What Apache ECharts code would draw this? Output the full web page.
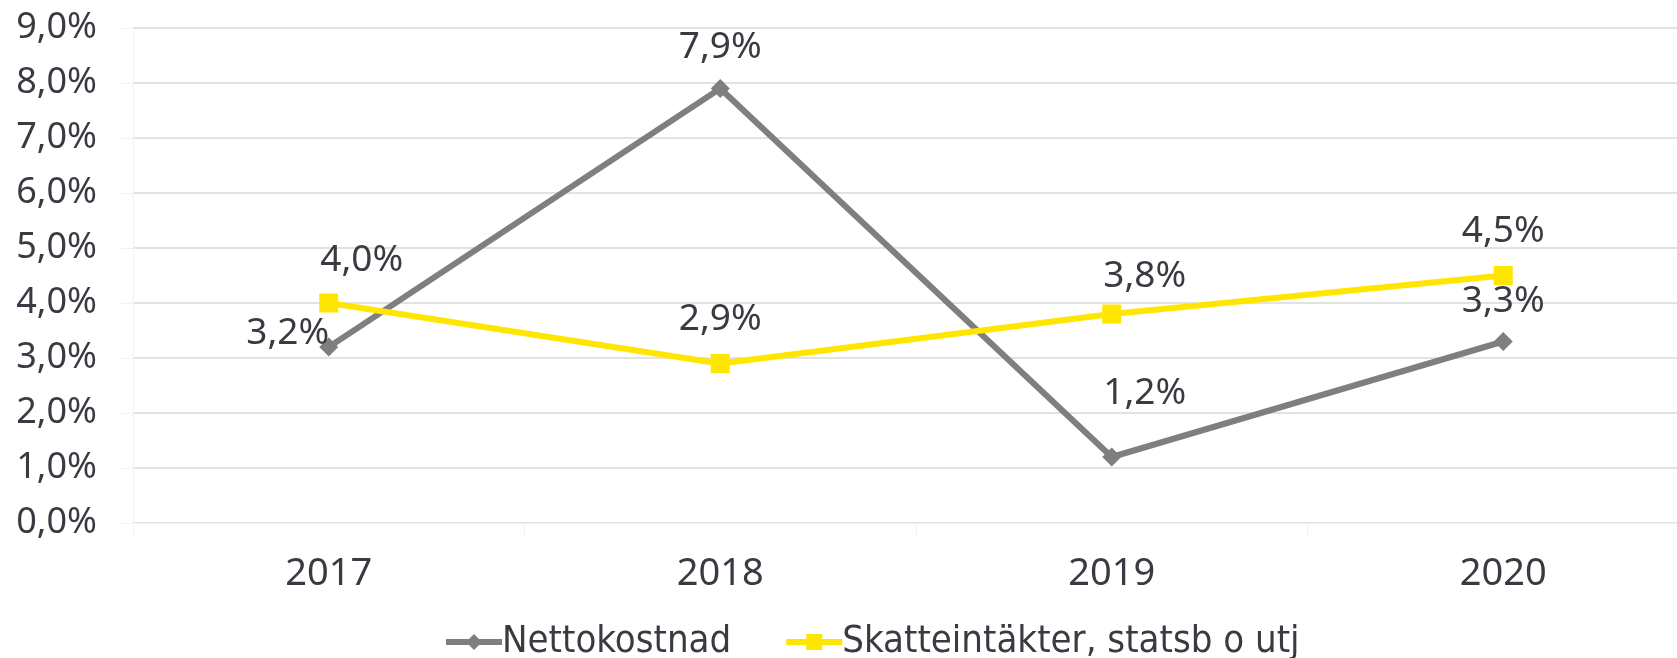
<!DOCTYPE html>
<html><head><meta charset="utf-8">
<script src="https://cdn.jsdelivr.net/npm/echarts@6/dist/echarts.min.js"></script>
<style>html,body{margin:0;padding:0;background:#fff;overflow:hidden;width:1677px;height:658px}#c{width:1699px;height:658px}</style>
</head><body><div id="c"></div>
<script>
const categories = ['2017', '2018', '2019', '2020'];
const nettokostnad = [3.2, 7.9, 1.2, 3.3];
const skatteintakter = [4.0, 2.9, 3.8, 4.5];
const yTicks = [0, 1, 2, 3, 4, 5, 6, 7, 8, 9];
const seriesNames = ['Nettokostnad', 'Skatteintäkter, statsb o utj'];

const netOffsets = [[-41, -14], [0, -41], [33, -64], [0, -40]];
const skOffsets = [[33, -43], [0, -44], [33, -38], [0, -44]];

const fmt = v => v.toFixed(1).replace('.', ',') + '%';
const font = "'Noto Sans', sans-serif";
const txt = '#3a3a42';

function mkData(vals, offs) {
  return vals.map((v, i) => ({ value: v, label: { offset: offs[i] } }));
}

const chart = echarts.init(document.getElementById('c'), null, { renderer: 'canvas' });
chart.setOption({
  animation: false,
  grid: { left: 133, top: 28, bottom: 135, right: 0, containLabel: false },
  xAxis: {
    type: 'category', data: categories, boundaryGap: true,
    axisLine: { show: true, lineStyle: { color: '#f2f2f2', width: 1 } },
    axisTick: { show: true, length: 13, lineStyle: { color: '#f2f2f2' } },
    axisLabel: { margin: 32, fontSize: 38, fontFamily: font, color: txt }
  },
  yAxis: {
    type: 'value', min: yTicks[0], max: yTicks[yTicks.length - 1], interval: 1,
    axisLine: { show: true, lineStyle: { color: '#f2f2f2' } },
    axisTick: { show: true, length: 13, lineStyle: { color: '#f2f2f2' } },
    splitLine: { lineStyle: { color: '#d9d9d9', width: 1.5 } },
    axisLabel: { margin: 36, fontSize: 36, fontFamily: font, color: txt, formatter: v => fmt(v) }
  },
  legend: {
    left: 438, top: 618, itemGap: 52, itemWidth: 56, itemHeight: 20,
    lineStyle: { width: 6 },
    textStyle: { fontSize: 38, fontFamily: "'Liberation Sans Narrow', 'DejaVu Sans Condensed', sans-serif", color: txt, padding: [0, 0, 0, -5] },
    data: seriesNames
  },
  series: [
    {
      name: seriesNames[0], type: 'line', data: mkData(nettokostnad, netOffsets),
      symbol: 'diamond', symbolSize: 19,
      lineStyle: { color: '#7f7f7f', width: 6 }, itemStyle: { color: '#7f7f7f' },
      label: { show: true, position: 'inside', fontSize: 37, fontFamily: font, color: txt, formatter: p => fmt(p.value) },
      z: 2
    },
    {
      name: seriesNames[1], type: 'line', data: mkData(skatteintakter, skOffsets),
      symbol: 'rect', symbolSize: 19,
      lineStyle: { color: '#ffe600', width: 6 }, itemStyle: { color: '#ffe600' },
      label: { show: true, position: 'inside', fontSize: 37, fontFamily: font, color: txt, formatter: p => fmt(p.value) },
      z: 3
    }
  ]
});
</script></body></html>
